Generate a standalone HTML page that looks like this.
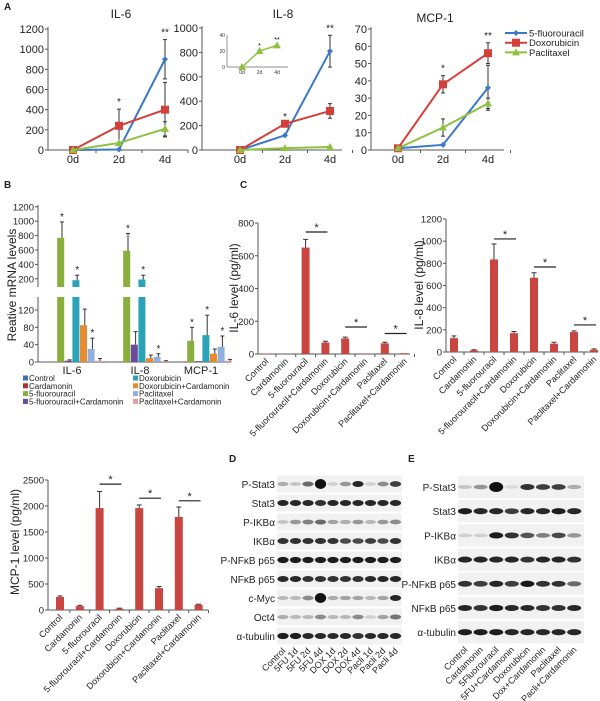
<!DOCTYPE html>
<html><head><meta charset="utf-8"><style>
body{margin:0;background:#fff}
svg{display:block;font-family:"Liberation Sans",Arial,sans-serif}
</style></head><body>
<svg id="fig" width="600" height="701" viewBox="0 0 600 701" xmlns="http://www.w3.org/2000/svg"></svg>
<script>
// ---------- Panel A data ----------
const timeLabels = ["0d","2d","4d"];
const il6_5fu = [0,5,900], il6_dox = [0,240,400], il6_pac = [0,70,210];
const il6_5fuErr = [0,0,195], il6_doxErr = [0,165,270], il6_pacErr = [0,0,70];
const il8_5fu = [0,120,810], il8_dox = [0,215,320], il8_pac = [0,15,25];
const il8_5fuErr = [0,0,130], il8_doxErr = [0,0,60], il8_pacErr = [0,0,0];
const il8Inset = [0,20,27];
const mcp_5fu = [1,3,36], mcp_dox = [1,38,56], mcp_pac = [1,13,27];
const mcp_5fuErr = [0,0,13], mcp_doxErr = [0,5,6], mcp_pacErr = [0,5,3];
const seriesNames = ["5-fluorouracil","Doxorubicin","Paclitaxel"];
// ---------- Panel B data ----------
const bGroups = ["IL-6","IL-8","MCP-1"];
const bTreatments = ["Control","Cardamonin","5-fluorouracil","5-fluorouracil+Cardamonin","Doxorubicin","Doxorubicin+Cardamonin","Paclitaxel","Paclitaxel+Cardamonin"];
const bIL6 = [1,1,770,3,180,85,30,3];
const bIL6Err = [0,0,220,2,70,37,25,5];
const bIL8 = [1,1,590,40,190,9,12,2];
const bIL8Err = [0,0,240,30,60,7,7,1];
const bMCP = [1,1,49,2,62,19,35,3];
const bMCPErr = [0,0,31,0,46,11,25,3];
// ---------- Panel C data ----------
const cCats = ["Control","Cardamonin","5-fluorouracil","5-fluorouracil+Cardamonin","Doxorubicin","Doxorubicin+Cardamonin","Paclitaxel","Paclitaxel+Cardamonin"];
const cIL6 = [3,1,650,70,95,2,65,5];
const cIL6Err = [0,0,50,8,8,0,7,0];
const cIL8 = [125,15,835,170,670,75,180,20];
const cIL8Err = [20,5,140,15,45,13,10,8];
const cMCP = [250,75,1960,25,1960,420,1790,100];
const cMCPErr = [20,15,320,10,60,30,190,10];
const cIL6Ticks = [0,200,400,600,800];
const cIL8Ticks = [0,200,400,600,800,1000,1200];
const cMCPTicks = [0,500,1000,1500,2000,2500];
// ---------- Blots ----------
const dRows = ["P-Stat3","Stat3","P-IKB\u03b1","IKB\u03b1","P-NF\u03baB p65","NF\u03baB p65","c-Myc","Oct4","\u03b1-tubulin"];
const dLanes = ["Control","5FU 1d","5FU 2d","5FU 4d","DOX 1d","DOX 2d","DOX 4d","Pacli 1d","Pacli 2d","Pacli 4d"];
const dInt = [
 [.3,.2,.6,1,.15,.4,.9,.15,.45,.8],
 [.9,.9,.9,.85,.9,.9,.9,.9,.9,.9],
 [.2,.4,.5,.6,.35,.3,.4,.25,.4,.45],
 [.85,.85,.85,.85,.85,.75,.75,.8,.75,.85],
 [.95,.95,.95,.95,.95,.95,.95,.95,.95,.95],
 [.9,.9,.85,.85,.85,.85,.85,.9,.9,.9],
 [.25,.25,.45,1,.3,.35,.35,.25,.35,.9],
 [.3,.25,.25,.45,.25,.25,.45,.15,.35,.55],
 [.95,.95,.9,.9,.9,.9,.85,.9,.9,.9]];
const eRows = ["P-Stat3","Stat3","P-IKB\u03b1","IKB\u03b1","P-NF\u03baB p65","NF\u03baB p65","\u03b1-tubulin"];
const eLanes = ["Control","Cardamonin","5Fluorouracil","5FU+Cardamonin","Doxorubicin","Dox+Cardamonin","Paclitaxel","Pacli+Cardamonin"];
const eInt = [
 [.2,.4,1,.1,.85,.8,.8,.3],
 [.95,.9,.9,.8,.9,.9,.95,.9],
 [.15,.15,.95,.85,.7,.5,.75,.4],
 [.9,.9,.9,.9,.85,.9,.9,.85],
 [.85,.8,.9,.8,.97,.85,.85,.6],
 [.9,.85,.95,.9,.9,.85,.85,.9],
 [.95,.95,.95,.9,.9,.9,.9,.9]];

const svg = document.getElementById('fig');
const NS = "http://www.w3.org/2000/svg";
function el(tag, attrs, parent, txt){
  const e = document.createElementNS(NS, tag);
  for (const k in attrs) e.setAttribute(k, attrs[k]);
  if (txt !== undefined) e.textContent = txt;
  (parent || svg).appendChild(e);
  return e;
}
function named(e, n){
  
  
  return e;
}
function label(x,y,t,size,opts){
  return el('text', Object.assign({x:x,y:y,'font-size':size,fill:'#222'}, opts||{}), svg, t);
}
[["A",4,10],["B",4,188],["C",240,188],["D",229,462],["E",408,462]].forEach(p=>{
  const t = label(p[1],p[2],p[0],10,{'font-weight':'bold'});
  
  
});

// ---------- line charts ----------
const colors = ["#3a78c9","#d43f3a","#8dc13f"];
function marker(g, kind, x, y, c){
  if (kind===0) el('path',{d:`M${x},${y-3}L${x+3},${y}L${x},${y+3}L${x-3},${y}Z`,fill:c},g);
  else if (kind===1) el('rect',{x:x-4,y:y-4,width:8,height:8,fill:c},g);
  else el('path',{d:`M${x},${y-4}L${x+4},${y+3}L${x-4},${y+3}Z`,fill:c},g);
}
function lineChart(o){
  const g = el('g',{});
  named(g, o.name);
  const ys = v => o.y0 - (v/o.max)*(o.y0-o.yTop);
  const xs = i => o.xPos[0] + i*(o.xPos[1]-o.xPos[0]);
  el('line',{x1:o.ax,y1:o.yTop-2,x2:o.ax,y2:o.y0,stroke:'#555'},g);
  el('line',{x1:o.ax,y1:o.y0,x2:o.axEnd,y2:o.y0,stroke:'#555'},g);
  for (let v=0; v<=o.max; v+=o.step){
    el('line',{x1:o.ax-3,y1:ys(v),x2:o.ax,y2:ys(v),stroke:'#555'},g);
    const t = el('text',{x:o.ax-4,y:ys(v)+4,'text-anchor':'end','font-size':11,fill:'#222'},g,String(v));
    
    
  }
  timeLabels.forEach((l,i)=>{
    el('line',{x1:xs(i)+ (o.xPos[1]-o.xPos[0])/2,y1:o.y0,x2:xs(i)+(o.xPos[1]-o.xPos[0])/2,y2:o.y0+3,stroke:'#555'},g);
    const t = el('text',{x:xs(i),y:o.y0+13,'text-anchor':'middle','font-size':11,fill:'#222'},g,l);
    
    
  });
  const tt = el('text',{x:o.titleX,y:o.titleY,'text-anchor':'middle','font-size':12,fill:'#222'},g,o.title);
  
  
  o.series.forEach((s,k)=>{
    const pts = s.map((v,i)=>xs(i)+','+ys(v)).join(' ');
    const errs = o.errs[k];
    s.forEach((v,i)=>{ if(errs[i]>0){
      el('line',{x1:xs(i),y1:ys(v+errs[i]),x2:xs(i),y2:ys(Math.max(0,v-errs[i])),stroke:'#333','stroke-width':1},g);
      el('line',{x1:xs(i)-2,y1:ys(v+errs[i]),x2:xs(i)+2,y2:ys(v+errs[i]),stroke:'#333'},g);
      el('line',{x1:xs(i)-2,y1:ys(Math.max(0,v-errs[i])),x2:xs(i)+2,y2:ys(Math.max(0,v-errs[i])),stroke:'#333'},g);
    }});
    const pl = el('polyline',{points:pts,fill:'none',stroke:colors[k],'stroke-width':2},g);
    
    
    s.forEach((v,i)=>marker(g,k,xs(i),ys(v),colors[k]));
  });
  o.stars.forEach(st=>{
    el('text',{x:xs(st[0]),y:ys(st[1])-4,'text-anchor':'middle','font-size':10,fill:'#222'},g,st[2]);
  });
  return {g,ys,xs};
}
lineChart({name:'il6-line-chart',ax:48,axEnd:188,y0:150,yTop:29,max:1200,step:200,xPos:[73,119],
  title:'IL-6',titleX:121,titleY:18,series:[il6_5fu,il6_dox,il6_pac],errs:[il6_5fuErr,il6_doxErr,il6_pacErr],
  stars:[[1,405,'*'],[2,1095,'**']]});
lineChart({name:'il8-line-chart',ax:202,axEnd:342,y0:150,yTop:28,max:1000,step:200,xPos:[240,285],
  title:'IL-8',titleX:283,titleY:18,series:[il8_5fu,il8_dox,il8_pac],errs:[il8_5fuErr,il8_doxErr,il8_pacErr],
  stars:[[1,215,'*'],[2,940,'**']]});
lineChart({name:'mcp1-line-chart',ax:371,axEnd:504,y0:150,yTop:29,max:70,step:10,xPos:[398,443],
  title:'MCP-1',titleX:435,titleY:22,series:[mcp_5fu,mcp_dox,mcp_pac],errs:[mcp_5fuErr,mcp_doxErr,mcp_pacErr],
  stars:[[1,43,'*'],[2,62,'**']]});
(function(){
  const g = el('g',{}); named(g,'il8-inset-chart');
  const ax=227, y0=67, yT=35, x0=242, dx=17.5;
  const ys=v=>y0-v/40*(y0-yT);
  el('line',{x1:ax,y1:yT,x2:ax,y2:y0,stroke:'#666','stroke-width':.7},g);
  el('line',{x1:ax,y1:y0,x2:288,y2:y0,stroke:'#666','stroke-width':.7},g);
  [0,20,40].forEach(v=>el('text',{x:ax-2,y:ys(v)+2,'text-anchor':'end','font-size':5,fill:'#333'},g,String(v)));
  timeLabels.forEach((l,i)=>el('text',{x:x0+i*dx,y:y0+7,'text-anchor':'middle','font-size':5,fill:'#333'},g,l));
  el('polyline',{points:il8Inset.map((v,i)=>(x0+i*dx)+','+ys(v)).join(' '),fill:'none',stroke:colors[2],'stroke-width':1.5},g);
  il8Inset.forEach((v,i)=>marker(g,2,x0+i*dx,ys(v),colors[2]));
  el('text',{x:x0+dx,y:ys(24),'text-anchor':'middle','font-size':7},g,'*');
  el('text',{x:x0+2*dx,y:ys(31),'text-anchor':'middle','font-size':7},g,'**');
})();
seriesNames.forEach((n,k)=>{
  const g = el('g',{}); named(g,'legend-entry-'+n.toLowerCase());
  const y = 33 + k*9.7;
  el('line',{x1:505,y1:y,x2:527,y2:y,stroke:colors[k],'stroke-width':2},g);
  marker(g,k,516,y,colors[k]);
  el('text',{x:529,y:y+3.5,'font-size':9.5,fill:'#222'},g,n);
});

// ---------- Panel B ----------
(function(){
  const g = el('g',{}); named(g,'mrna-bar-chart');
  const bColors = ["#3f6fb0","#a83232","#8aae3c","#6d4a9a","#2aa3b8","#e88a2e","#8fb0dd","#e99a9a"];
  const ax=38, y0=362, lowTop=297, upBot=287;
  const lowScale=(y0-lowTop)/150, upScale=(279-207)/1000;
  const ys = v => v<=150 ? y0 - v*lowScale : 286 - (v-100)*upScale;
  el('line',{x1:ax,y1:lowTop,x2:ax,y2:y0,stroke:'#555'},g);
  el('line',{x1:ax,y1:205,x2:ax,y2:upBot,stroke:'#555'},g);
  el('line',{x1:ax,y1:y0,x2:231,y2:y0,stroke:'#555'},g);
  [0,40,80,120].forEach(v=>{el('line',{x1:ax-3,y1:ys(v),x2:ax,y2:ys(v),stroke:'#555'},g);
    el('text',{x:ax-4,y:ys(v)+3.5,'text-anchor':'end','font-size':9.5,fill:'#222'},g,String(v));});
  [200,400,600,800,1000,1200].forEach(v=>{el('line',{x1:ax-3,y1:ys(v),x2:ax,y2:ys(v),stroke:'#555'},g);
    el('text',{x:ax-4,y:ys(v)+3.5,'text-anchor':'end','font-size':9.5,fill:'#222'},g,String(v));});
  const yl = el('text',{x:0,y:0,'text-anchor':'middle','font-size':12,fill:'#222',transform:'translate(16,285) rotate(-90)'},g,'Reative mRNA levels');
   
  const groups=[bIL6,bIL8,bMCP], errs=[bIL6Err,bIL8Err,bMCPErr];
  const bw=7.6, gStart=[42,108,172], gLabelX=[72,140,201];
  groups.forEach((vals,gi)=>{
    vals.forEach((v,i)=>{
      const x = gStart[gi]+i*bw;
      const b = el('g',{},g);
      
      
      if (v<=150){
        el('rect',{x:x,y:ys(v),width:bw-.6,height:y0-ys(v),fill:bColors[i]},b);
      } else {
        el('rect',{x:x,y:lowTop,width:bw-.6,height:y0-lowTop,fill:bColors[i]},b);
        el('rect',{x:x,y:ys(v),width:bw-.6,height:upBot-ys(v),fill:bColors[i]},b);
        el('path',{d:`M${x-1},${lowTop-1}L${x+bw},${lowTop-5}L${x+bw},${upBot+3}L${x-1},${upBot+7}Z`,fill:'#fff'},b);
      }
      const e = errs[gi][i];
      if (e>0){
        const top = ys(v+e);
        el('line',{x1:x+bw/2+1,y1:top,x2:x+bw/2+1,y2:ys(v),stroke:'#333'},b);
        el('line',{x1:x+bw/2-1,y1:top,x2:x+bw/2+3,y2:top,stroke:'#333'},b);
        if ([2,4,6].includes(i)) el('text',{x:x+bw/2+1,y:top-2,'text-anchor':'middle','font-size':10,fill:'#222'},b,'*');
      }
    });
    const t = el('text',{x:gLabelX[gi],y:y0+12,'text-anchor':'middle','font-size':11,fill:'#222'},g,bGroups[gi]);
     
  });
  bTreatments.forEach((n,i)=>{
    const col = i<4 ? 0 : 1, row = i%4;
    const x = col? 133:23, y = 381+row*7.8;
    const le = el('g',{},g);
    
    
    el('rect',{x:x,y:y-5.5,width:5,height:5,fill:bColors[i]},le);
    el('text',{x:x+6,y:y,'font-size':8,fill:'#222'},le,n);
  });
})();

// ---------- Panel C bar charts ----------
function barChart(o){
  const g = el('g',{}); named(g,o.name);
  const max=o.ticks[o.ticks.length-1];
  const ys=v=>o.y0-v/max*(o.y0-o.yTop);
  const xs=i=>o.x0+i*o.dx;
  el('line',{x1:o.ax,y1:o.yTop,x2:o.ax,y2:o.y0,stroke:'#555'},g);
  el('line',{x1:o.ax,y1:o.y0,x2:o.axEnd,y2:o.y0,stroke:'#555'},g);
  o.ticks.forEach(v=>{el('line',{x1:o.ax-3,y1:ys(v),x2:o.ax,y2:ys(v),stroke:'#555'},g);
    const t=el('text',{x:o.ax-4,y:ys(v)+3.5,'text-anchor':'end','font-size':9.5,fill:'#222'},g,String(v));
     });
  o.vals.forEach((v,i)=>{
    const x=xs(i);
    const b=el('rect',{x:x-4,y:ys(v),width:8,height:o.y0-ys(v),fill:'#c9453f'},g);
    
    
    const e=o.errs[i];
    if(e>0){el('line',{x1:x,y1:ys(v+e),x2:x,y2:ys(v),stroke:'#333'},g);
      el('line',{x1:x-2.5,y1:ys(v+e),x2:x+2.5,y2:ys(v+e),stroke:'#333'},g);}
    el('line',{x1:x+o.dx/2,y1:o.y0,x2:x+o.dx/2,y2:o.y0+3,stroke:'#555'},g);
    const t=el('text',{x:0,y:0,'text-anchor':'end','font-size':9,fill:'#222',transform:`translate(${x+3},${o.y0+8}) rotate(-45)`},g,o.cats[i]);
     
  });
  o.brackets.forEach(b=>{
    el('line',{x1:xs(b[0]),y1:ys(b[1]),x2:xs(b[0]+1)+2,y2:ys(b[1]),stroke:'#222','stroke-width':1.2},g);
    el('text',{x:(xs(b[0])+xs(b[0]+1))/2+1,y:ys(b[1])-1,'text-anchor':'middle','font-size':11,fill:'#222'},g,'*');
  });
  const yl=el('text',{x:0,y:0,'text-anchor':'middle','font-size':12,fill:'#222',transform:`translate(${o.ylX},${o.ylY}) rotate(-90)`},g,o.ylabel);
   
}
barChart({name:'il6-elisa-bar-chart',ax:258,axEnd:410,y0:354,yTop:223,x0:266,dx:19.8,ticks:cIL6Ticks,vals:cIL6,errs:cIL6Err,cats:cCats,
  brackets:[[2,745],[4,165],[6,125]],ylabel:'IL-6 level (pg/ml)',ylX:238,ylY:288});
barChart({name:'il8-elisa-bar-chart',ax:446,axEnd:598,y0:352,yTop:219,x0:454,dx:20,ticks:cIL8Ticks,vals:cIL8,errs:cIL8Err,cats:cCats,
  brackets:[[2,1020],[4,767],[6,244]],ylabel:'IL-8 level (pg/ml)',ylX:423,ylY:285});
barChart({name:'mcp1-elisa-bar-chart',ax:48,axEnd:208,y0:610,yTop:480,x0:60,dx:19.8,ticks:cMCPTicks,vals:cMCP,errs:cMCPErr,cats:cCats,
  brackets:[[2,2420],[4,2150],[6,2100]],ylabel:'MCP-1 level (pg/ml)',ylX:19,ylY:542});

// ---------- Blots ----------
function blot(o){
  const g=el('g',{}); named(g,o.name);
  o.rows.forEach((r,ri)=>{
    const cy=o.rowY[0]+ri*o.rowDy;
    const rg=el('g',{},g);
    
    
    el('rect',{x:o.x0,y:cy-o.rowDy/2+1,width:o.x1-o.x0,height:o.rowDy-2,fill:'#f1f1f1'},rg);
    o.ints[ri].forEach((v,li)=>{
      const cx=o.lane0+li*o.laneDx;
      const ry = v>=1 ? 5 : 1.6+1.6*v;
      el('ellipse',{cx:cx,cy:cy,rx:o.laneDx*0.45,ry:ry,fill:'#111','fill-opacity':Math.min(1,v)},rg);
    });
    el('text',{x:o.x0-2,y:cy+4,'text-anchor':'end','font-size':10,fill:'#222'},rg,r);
  });
  const lastY=o.rowY[0]+(o.rows.length-1)*o.rowDy+o.rowDy/2;
  o.lanes.forEach((l,li)=>{
    const cx=o.lane0+li*o.laneDx;
    const t=el('text',{x:0,y:0,'text-anchor':'end','font-size':9,fill:'#222',transform:`translate(${cx+3},${lastY+6}) rotate(-45)`},g,l);
     
  });
}
blot({name:'western-blot-d',rows:dRows,lanes:dLanes,ints:dInt,x0:277,x1:402,rowY:[484],rowDy:19,lane0:283,laneDx:12.5});
blot({name:'western-blot-e',rows:eRows,lanes:eLanes,ints:eInt,x0:458,x1:584,rowY:[487],rowDy:24.2,lane0:465,laneDx:15.6});
</script>
</body></html>
